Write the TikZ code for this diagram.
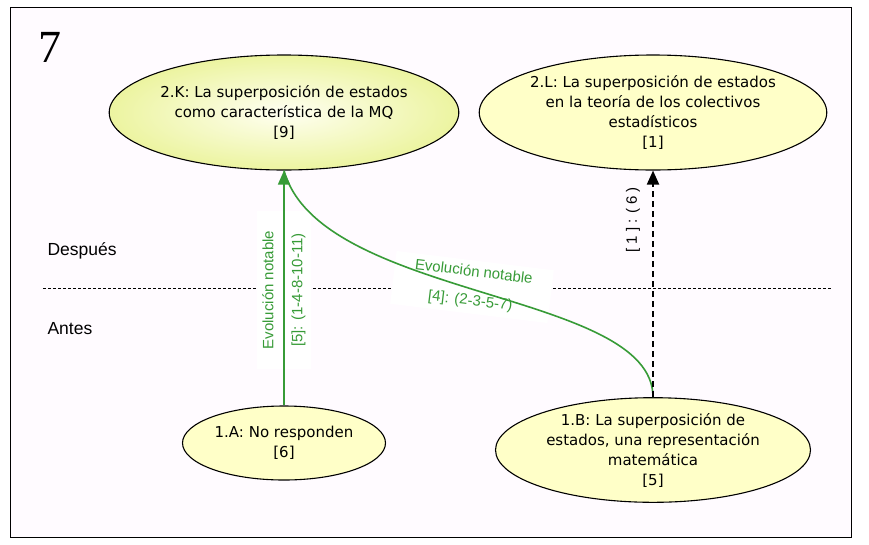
\documentclass[tikz,border=0pt]{standalone}
\usepackage{fontspec}
\setmainfont{Liberation Sans}
\newfontfamily\nodefont{DejaVu Sans}
\newfontfamily\numfont{Liberation Serif}
\usetikzlibrary{shapes.geometric,arrows.meta}
\definecolor{grn}{RGB}{55,155,55}
\definecolor{bgpink}{RGB}{255,251,255}
\definecolor{ylw}{RGB}{255,255,200}
\definecolor{ylwedge}{RGB}{236,244,160}
\definecolor{ylwin}{RGB}{255,255,242}
\begin{document}
\begin{tikzpicture}[x=1pt,y=-1pt,
  ell/.style={ellipse, draw=black, line width=1.1pt, inner sep=0pt, align=center,
    font=\nodefont\fontsize{15}{20}\selectfont},
  lbl/.style={align=center, font=\fontsize{15}{29}\selectfont, inner xsep=20pt, inner ysep=5pt},
  sidetxt/.style={anchor=west, font=\fontsize{17.5}{20}\selectfont},
  grnline/.style={draw=grn, line width=1.6pt},
  tip/.style={-{Triangle[length=14pt,width=12pt]}}
]
\useasboundingbox (0,0) rectangle (869,544);
\draw[line width=1pt, fill=bgpink] (10,7) rectangle (851,537);

\node[font=\numfont\fontsize{46}{46}\selectfont] (num) at (50,47) {7};

\node[ell, minimum width=342pt, minimum height=115pt, shade, inner color=ylwin, outer color=ylwedge] (K) at (284,112.5)
  {2.K: La superposición de estados\\como característica de la  MQ\\{[9]}};
\node[ell, fill=ylw, minimum width=313pt, minimum height=115pt] (L) at (653,112.5)
  {2.L: La superposición de estados\\en la teoría de los colectivos\\estadísticos\\{[1]}};
\node[ell, fill=ylw, minimum width=203pt, minimum height=74pt] (A) at (284,443)
  {1.A: No responden\\{[6]}};
\node[ell, fill=ylw, minimum width=315pt, minimum height=100pt] (B) at (653,450)
  {1.B: La superposición de\\estados, una representación\\matemática\\{[5]}};

\node[sidetxt] (desp) at (44,251) {Después};
\node[sidetxt] (ant) at (44,329) {Antes};

\coordinate (hl) at (43,288);
\coordinate (hr) at (832,288);
\draw[line width=0.8pt, dash pattern=on 3pt off 2pt] (hl) -- (hr);

\node[lbl, rotate=90, fill=white, text=grn] (l1) at (284,290) {Evolución notable\\{[5]}: (1-4-8-10-11)};
\node[lbl, rotate=-7, fill=white, text=grn] (l2) at (472,287) {Evolución notable\\{[4]}: (2-3-5-7)};
\node[font=\fontsize{15}{18}\selectfont, rotate=90] (l3) at (633,220) {[ 1 ] : ( 6 )};

\draw[grnline, tip] (A.north) -- (K.south);
\draw[grnline] (B.north) .. controls (653,290) and (320,300) .. (K.south);
\draw[line width=2pt, dash pattern=on 6pt off 4pt, tip] (B.north) -- (L.south);
\end{tikzpicture}
\end{document}
